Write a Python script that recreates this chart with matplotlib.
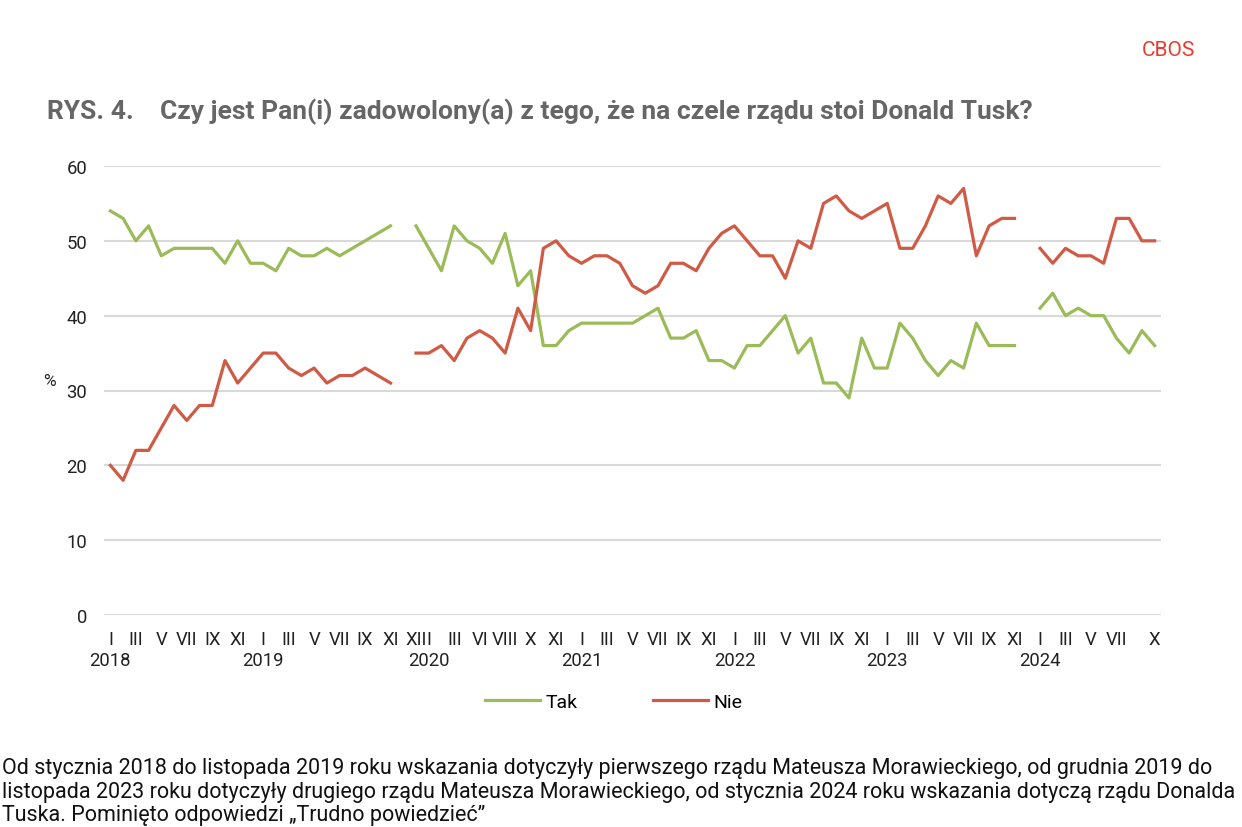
import numpy as np
import matplotlib
matplotlib.use('Agg')
import matplotlib.pyplot as plt

plt.rcParams['font.family'] = ['Roboto', 'DejaVu Sans']

nan = np.nan

# month labels for each category (empty = no label)
months = ['I', '', 'III', '', 'V', '', 'VII', '', 'IX', '', 'XI', '',
          'I', '', 'III', '', 'V', '', 'VII', '', 'IX', '', 'XI', '',
          'XII', 'I', '', 'III', '', 'VI', '', 'VIII', '', 'X', '', 'XI', '',
          'I', '', 'III', '', 'V', '', 'VII', '', 'IX', '', 'XI', '',
          'I', '', 'III', '', 'V', '', 'VII', '', 'IX', '', 'XI', '',
          'I', '', 'III', '', 'V', '', 'VII', '', 'IX', '', 'XI', '',
          'I', '', 'III', '', 'V', '', 'VII', '', '', 'X']

years = ['2018', '2019', '2020', '2021', '2022', '2023', '2024']
year_pos = [0, 12, 25, 37, 49, 61, 73]

tak = [54, 53, 50, 52, 48, 49, 49, 49, 49, 47, 50, 47, 47, 46, 49, 48, 48, 49, 48, 49, 50, 51, 52,
       nan,
       52, 49, 46, 52, 50, 49, 47, 51, 44, 46, 36, 36, 38,
       39, 39, 39, 39, 39, 40, 41, 37, 37, 38, 34, 34,
       33, 36, 36, 38, 40, 35, 37, 31, 31, 29, 37, 33,
       33, 39, 37, 34, 32, 34, 33, 39, 36, 36, 36,
       nan,
       41, 43, 40, 41, 40, 40, 37, 35, 38, 36]

nie = [20, 18, 22, 22, 25, 28, 26, 28, 28, 34, 31, 33, 35, 35, 33, 32, 33, 31, 32, 32, 33, 32, 31,
       nan,
       35, 35, 36, 34, 37, 38, 37, 35, 41, 38, 49, 50, 48,
       47, 48, 48, 47, 44, 43, 44, 47, 47, 46, 49, 51,
       52, 50, 48, 48, 45, 50, 49, 55, 56, 54, 53, 54,
       55, 49, 49, 52, 56, 55, 57, 48, 52, 53, 53,
       nan,
       49, 47, 49, 48, 48, 47, 53, 53, 50, 50]

green = '#9bbb59'
red = '#cf5a45'

fig = plt.figure(figsize=(12.42, 8.28), dpi=100)
ax = fig.add_axes([104/1242, 1-616/828, (1161-104)/1242, (616-167)/828])

x = np.arange(len(months))
ax.plot(x, tak, color=green, lw=2.3, label='Tak', clip_on=False)
ax.plot(x, nie, color=red, lw=2.3, label='Nie', clip_on=False)

ax.set_xlim(-0.5, len(months) - 0.5)
ax.set_ylim(0, 60)
ax.set_yticks(range(0, 61, 10))
ax.grid(axis='y', color='#d9d9d9', lw=1.5)
ax.set_axisbelow(True)
for s in ax.spines.values():
    s.set_visible(False)

ax.set_xticks(x)
ax.set_xticklabels(months, fontsize=13.3, color='#222222')
ax.tick_params(axis='x', length=0, pad=11)
ax.tick_params(axis='y', length=0, pad=12, labelsize=13.3, labelcolor='#222222')

for yr, p in zip(years, year_pos):
    ax.text(p, -0.1, yr, transform=ax.get_xaxis_transform(), ha='center', va='center',
            fontsize=13.3, color='#222222')

fig.text(43/1242, 1-382/828, '%', fontsize=12.5, color='#222222', va='center')

fig.text(47/1242, 1-112/828, 'RYS. 4.', fontsize=19, fontweight='bold', color='#666666', va='center')
fig.text(160/1242, 1-112/828, 'Czy jest Pan(i) zadowolony(a) z tego, że na czele rządu stoi Donald Tusk?',
         fontsize=19, fontweight='bold', color='#666666', va='center')
fig.text(1195/1242, 1-50/828, 'CBOS', fontsize=15, color='#e8392d', ha='right', va='center')

fig.legend(loc='center', bbox_to_anchor=(614/1242, 1-703/828), ncol=2, frameon=False,
           fontsize=14, handlelength=2.8, handletextpad=0.3, columnspacing=3.9)

notes = ['Od stycznia 2018 do listopada 2019 roku wskazania dotyczyły pierwszego rządu Mateusza Morawieckiego, od grudnia 2019 do',
         'listopada 2023 roku dotyczyły drugiego rządu Mateusza Morawieckiego, od stycznia 2024 roku wskazania dotyczą rządu Donalda',
         'Tuska. Pominięto odpowiedzi „Trudno powiedzieć”']
for i, line in enumerate(notes):
    fig.text(2/1242, 1-(769 + 23.5*i)/828, line, fontsize=15.5, color='#111111', va='center')

fig.savefig('out.png', dpi=100)
